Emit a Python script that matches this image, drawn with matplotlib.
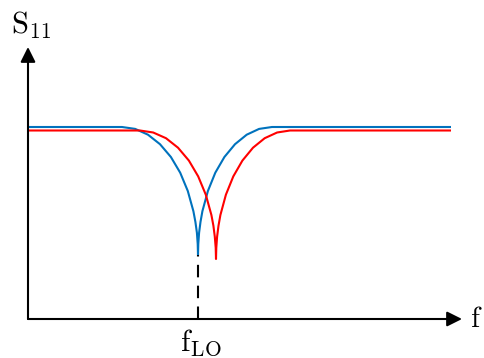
import matplotlib
matplotlib.use("Agg")
import matplotlib.pyplot as plt

plt.rcParams['mathtext.fontset'] = 'cm'
plt.rcParams['font.family'] = ['DejaVu Serif']

# frequency (arbitrary units) and S11 magnitude (arbitrary units)
blue_f = [0, 94, 107.2, 120, 132, 142.9, 152.2, 159.8, 165.4, 167.4, 168.9, 169.7, 170,
          170.3, 171.1, 172.5, 174.4, 179.9, 187.3, 196.4, 207, 218.7, 231.1, 244, 423]
blue_s = [192, 192, 190.1, 184.3, 174.8, 162, 146.3, 128, 107.8, 97.1, 86.3, 75.1, 64,
          75.1, 86.3, 97.1, 107.8, 128, 146.3, 162, 174.8, 184.3, 190.1, 192, 192]
red_f = [0, 112, 125.2, 138, 150, 160.9, 170.2, 177.8, 183.4, 185.4, 186.8, 187.7, 188,
         188.3, 189.1, 190.5, 192.4, 197.9, 205.3, 214.4, 225, 236.7, 249.1, 262, 423]
red_s = [188.5, 188.5, 186.5, 180.8, 171.3, 158.4, 142.6, 124.3, 104, 93.3, 82.3, 71.2, 60,
         71.2, 82.3, 93.3, 104, 124.3, 142.6, 158.4, 171.3, 180.8, 186.5, 188.5, 188.5]
f_lo = 170
f_lo_s = 64
x_end = 434
y_end = 272

W, H = 484, 358
fig = plt.figure(figsize=(W / 100, H / 100), dpi=100)
ax = fig.add_axes([28 / W, (H - 319) / H, (462 - 28) / W, (319 - 47) / H])
ax.set_xlim(0, x_end)
ax.set_ylim(0, y_end)
ax.axis('off')

ax.plot(blue_f, blue_s, color='#0072BD', lw=1.5, solid_capstyle='butt', solid_joinstyle='round')
ax.plot(red_f, red_s, color='#FF0000', lw=1.5, solid_capstyle='butt', solid_joinstyle='round')
ax.plot([f_lo, f_lo], [0, f_lo_s], color='black', lw=1.5, linestyle=(0, (6, 4)))

arrow = dict(arrowstyle='-|>,head_length=0.6,head_width=0.3', mutation_scale=15,
             lw=1.5, color='black', shrinkA=0, shrinkB=0)
ax.annotate('', xy=(x_end, 0), xytext=(0, 0), arrowprops=arrow, annotation_clip=False)
ax.annotate('', xy=(0, y_end), xytext=(0, 0), arrowprops=arrow, annotation_clip=False)

ax.text(3, 285, r'$\mathrm{S}_{11}$', fontsize=22, ha='center', va='baseline')
ax.text(x_end + 8, 0, r'$\mathrm{f}$', fontsize=21, ha='left', va='center')
ax.text(f_lo + 3, -8, r'$\mathrm{f}_{\mathrm{LO}}$', fontsize=22, ha='center', va='top')

fig.savefig('out.png', dpi=100)
